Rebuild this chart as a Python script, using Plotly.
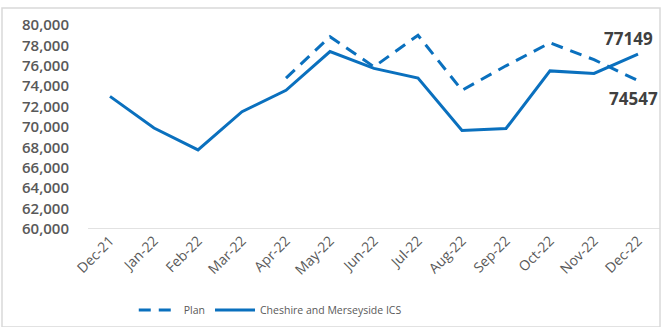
import plotly.graph_objects as go

months = ["Dec-21", "Jan-22", "Feb-22", "Mar-22", "Apr-22", "May-22", "Jun-22",
          "Jul-22", "Aug-22", "Sep-22", "Oct-22", "Nov-22", "Dec-22"]
actual = [73000, 69900, 67750, 71500, 73600, 77400, 75750, 74800, 69650, 69850,
          75500, 75250, 77149]
plan = [None, None, None, None, 74800, 78850, 75900, 79000, 73600, 76000,
        78250, 76600, 74547]

blue = "#0a70be"
grey = "#595959"

fig = go.Figure()
fig.add_trace(go.Scatter(x=months, y=plan, name="Plan", mode="lines",
                         line=dict(color=blue, width=3, dash="12px,8px")))
fig.add_trace(go.Scatter(x=months, y=actual, name="Cheshire and Merseyside ICS",
                         mode="lines", line=dict(color=blue, width=3)))

fig.add_annotation(x=months[-1], y=actual[-1], text="<b>77149</b>", showarrow=False,
                   xshift=-10, yshift=16, font=dict(size=17, color="#404040", family="Open Sans"))
fig.add_annotation(x=months[-1], y=plan[-1], text="<b>74547</b>", showarrow=False,
                   xshift=-5, yshift=-18, font=dict(size=17, color="#404040", family="Open Sans"))

fig.update_layout(
    width=668, height=327,
    margin=dict(l=88, r=8, t=25, b=98, autoexpand=False),
    paper_bgcolor="white", plot_bgcolor="white",
    font=dict(family="Open Sans", color=grey),
    xaxis=dict(type="category", range=[-0.5, 12.5], showgrid=False, showline=False,
               ticks="", tickangle=-45, automargin=False,
               tickfont=dict(size=14, color=grey)),
    yaxis=dict(range=[60000, 80000], dtick=2000, tickformat=",", showgrid=False,
               zeroline=False, showline=False, ticklabelstandoff=18, automargin=False,
               tickfont=dict(size=15, color=grey, family="Open Sans", weight=600)),
    showlegend=True,
    legend=dict(orientation="h", x=0.08, xanchor="left", yref="container",
                y=1 - 310 / 327, yanchor="middle",
                font=dict(size=10.5, color=grey), itemwidth=40, tracegroupgap=0),
    shapes=[
        dict(type="line", xref="paper", yref="y", x0=0, x1=1, y0=60000, y1=60000,
             line=dict(color="#d9d9d9", width=1.5)),
        dict(type="rect", xref="paper", yref="paper", x0=-86/572, x1=1, y0=-98/204, y1=1 + 17/204,
             line=dict(color="#d9d9d9", width=1.5)),
    ],
)

fig.write_html("out.html")
